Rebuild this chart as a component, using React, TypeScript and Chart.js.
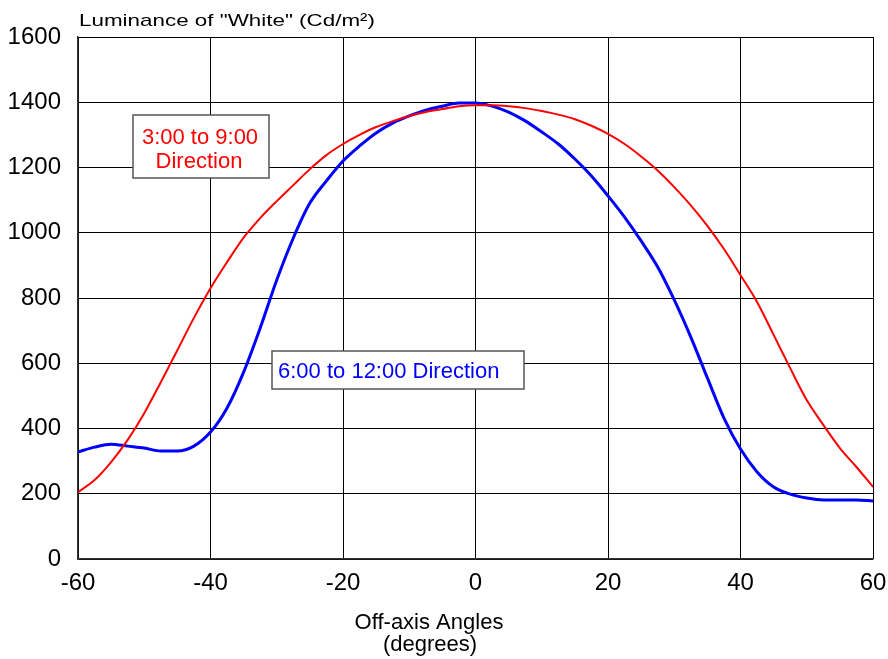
import React, { useEffect, useRef } from "react";
import { Chart, registerables } from "chart.js";

Chart.register(...registerables);

const angles = [
  -60, -57.5, -55, -52.5, -50, -47.5, -45, -42.5, -40, -37.5, -35, -32.5, -30,
  -27.5, -25, -22.5, -20, -17.5, -15, -12.5, -10, -7.5, -5, -2.5, 0, 2.5, 5,
  7.5, 10, 12.5, 15, 17.5, 20, 22.5, 25, 27.5, 30, 32.5, 35, 37.5, 40, 42.5,
  45, 47.5, 50, 52.5, 55, 57.5, 60,
];

const horizontal3to9 = [
  205, 242, 297, 365, 447, 542, 640, 739, 830, 910, 985, 1045, 1097, 1146,
  1195, 1238, 1272, 1300, 1324, 1342, 1358, 1370, 1379, 1388, 1391, 1391, 1388,
  1382, 1373, 1362, 1348, 1328, 1303, 1272, 1234, 1191, 1140, 1084, 1021, 950,
  870, 788, 687, 585, 487, 411, 340, 282, 221,
];

const vertical6to12 = [
  328, 343, 352, 346, 340, 331, 331, 346, 389, 463, 573, 708, 855, 984, 1091,
  1159, 1220, 1266, 1306, 1336, 1358, 1376, 1388, 1398, 1398, 1388, 1370, 1343,
  1309, 1272, 1226, 1174, 1113, 1048, 975, 895, 794, 680, 555, 432, 337, 267,
  221, 199, 187, 181, 181, 181, 178,
];

const yTitle = 'Luminance of "White" (Cd/m\u00B2)';
const xTitleLines = ["Off-axis Angles", "(degrees)"];
const redLabelLines = ["3:00 to 9:00", "Direction"];
const blueLabel = "6:00 to 12:00 Direction";

const FONT = "'Liberation Sans', Arial, sans-serif";

const extrasPlugin = {
  id: "extras",
  afterDraw(chart: any) {
    const ctx = chart.ctx as CanvasRenderingContext2D;
    ctx.save();

    ctx.font = `17px ${FONT}`;
    ctx.fillStyle = "#000";
    ctx.textBaseline = "alphabetic";
    ctx.textAlign = "left";
    const w = ctx.measureText(yTitle).width;
    ctx.save();
    ctx.translate(79, 26);
    ctx.scale(296 / w, 1);
    ctx.fillText(yTitle, 0, 0);
    ctx.restore();

    ctx.font = `22px ${FONT}`;
    ctx.textAlign = "center";
    ctx.fillText(xTitleLines[0], 429, 629);
    ctx.fillText(xTitleLines[1], 430, 651);

    const box = (x: number, y: number, bw: number, bh: number) => {
      ctx.fillStyle = "#fff";
      ctx.fillRect(x, y, bw, bh);
      ctx.strokeStyle = "#555";
      ctx.lineWidth = 1.5;
      ctx.strokeRect(x, y, bw, bh);
    };

    box(133, 115, 136, 63);
    ctx.fillStyle = "#ff0000";
    ctx.font = `22px ${FONT}`;
    ctx.textAlign = "center";
    ctx.textBaseline = "middle";
    ctx.fillText(redLabelLines[0], 200, 138);
    ctx.fillText(redLabelLines[1], 199, 162);

    box(272, 351, 252, 38);
    ctx.fillStyle = "#0000ff";
    ctx.textAlign = "left";
    ctx.fillText(blueLabel, 278, 372);

    ctx.restore();
  },
};

export default function App() {
  const ref = useRef<HTMLCanvasElement | null>(null);

  useEffect(() => {
    if (!ref.current) return;
    const chart = new Chart(ref.current, {
      type: "line",
      data: {
        datasets: [
          {
            label: "3:00 to 9:00 Direction",
            data: angles.map((a, i) => ({ x: a, y: horizontal3to9[i] })),
            borderColor: "#ff0000",
            borderWidth: 2,
            pointRadius: 0,
            cubicInterpolationMode: "monotone",
            fill: false,
          },
          {
            label: "6:00 to 12:00 Direction",
            data: angles.map((a, i) => ({ x: a, y: vertical6to12[i] })),
            borderColor: "#0000ff",
            borderWidth: 3,
            pointRadius: 0,
            cubicInterpolationMode: "monotone",
            fill: false,
          },
        ],
      },
      options: {
        responsive: false,
        animation: false,
        layout: { padding: { top: 37, right: 15, left: 0, bottom: 0 } },
        plugins: {
          legend: { display: false },
          tooltip: { enabled: false },
          title: { display: false },
        },
        scales: {
          x: {
            type: "linear",
            min: -60,
            max: 60,
            ticks: {
              stepSize: 20,
              color: "#000",
              font: { family: FONT, size: 24 },
              padding: 10,
              maxRotation: 0,
              callback: (v: any) => String(v),
            },
            grid: { color: "#000", lineWidth: 1, drawTicks: false },
            border: { display: true, color: "#333", width: 1.5 },
            afterFit: (s: any) => {
              s.height = 100;
              s.paddingRight = 0;
              s.paddingLeft = 0;
            },
          },
          y: {
            type: "linear",
            min: 0,
            max: 1600,
            ticks: {
              stepSize: 200,
              color: "#000",
              font: { family: FONT, size: 24 },
              padding: 17,
              callback: (v: any) => String(v),
            },
            grid: { color: "#000", lineWidth: 1, drawTicks: false },
            border: { display: true, color: "#333", width: 1.5 },
            afterFit: (s: any) => {
              s.width = 78;
              s.paddingTop = 0;
              s.paddingBottom = 0;
            },
          },
        },
      },
      plugins: [extrasPlugin],
    });
    return () => chart.destroy();
  }, []);

  return (
    <div style={{ position: "fixed", left: 0, top: 0, width: 888, height: 659, background: "#fff" }}>
      <canvas ref={ref} width={888} height={659} />
    </div>
  );
}
